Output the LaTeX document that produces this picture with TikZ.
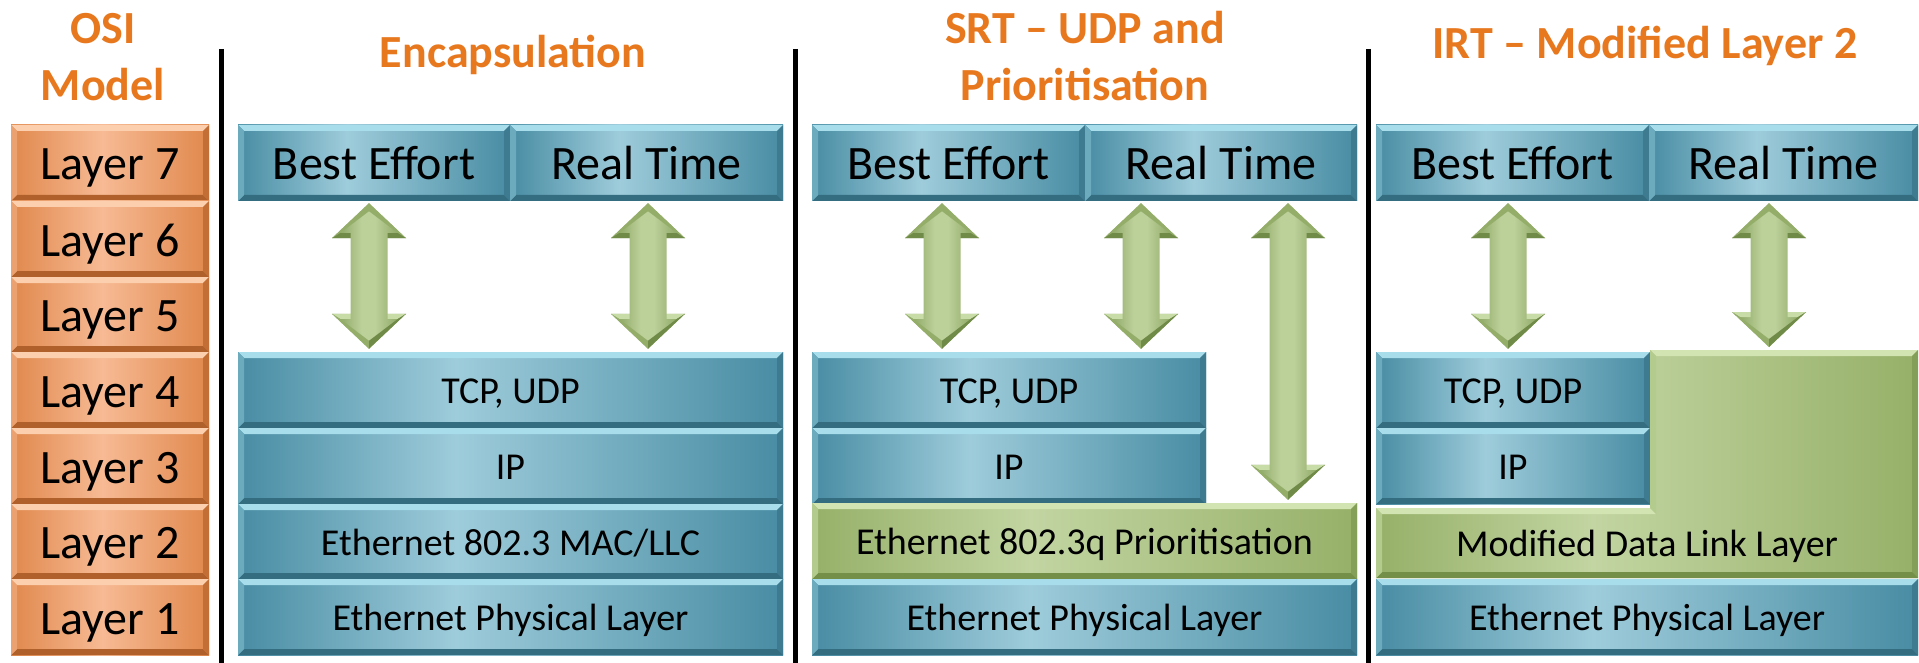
\documentclass[tikz,border=0pt]{standalone}
\usepackage{fontspec}
\setmainfont{Carlito}
\usetikzlibrary{calc}
\definecolor{tealD}{RGB}{72,140,163}
\definecolor{tealL}{RGB}{158,204,219}
\definecolor{tealT}{RGB}{168,222,236}
\definecolor{tealB}{RGB}{52,108,128}
\definecolor{tealLf}{RGB}{108,170,190}
\definecolor{tealR}{RGB}{62,122,144}
\definecolor{orD}{RGB}{224,136,76}
\definecolor{orL}{RGB}{247,186,148}
\definecolor{orT}{RGB}{252,208,174}
\definecolor{orB}{RGB}{176,96,42}
\definecolor{orLf}{RGB}{236,162,112}
\definecolor{orR}{RGB}{194,110,52}
\definecolor{grD}{RGB}{150,176,104}
\definecolor{grL}{RGB}{194,213,162}
\definecolor{grT}{RGB}{210,228,178}
\definecolor{grB}{RGB}{116,144,72}
\definecolor{grLf}{RGB}{180,203,142}
\definecolor{grR}{RGB}{132,160,88}
\definecolor{arD}{RGB}{128,156,86}
\definecolor{arL}{RGB}{188,208,154}
\definecolor{arT}{RGB}{200,220,168}
\definecolor{arM}{RGB}{148,174,106}
\definecolor{arB}{RGB}{112,138,72}
\definecolor{ttl}{RGB}{232,120,30}
\pgfdeclarehorizontalshading{tealsh}{100bp}{color(0bp)=(tealD); color(25bp)=(tealD); color(45bp)=(tealL); color(75bp)=(tealD); color(100bp)=(tealD)}
\pgfdeclarehorizontalshading{orsh}{100bp}{color(0bp)=(orD); color(25bp)=(orD); color(48bp)=(orL); color(75bp)=(orD); color(100bp)=(orD)}
\pgfdeclarehorizontalshading{grsh}{100bp}{color(0bp)=(grD); color(25bp)=(grD); color(45bp)=(grL); color(75bp)=(grD); color(100bp)=(grD)}
\pgfdeclarehorizontalshading{arrsh}{100bp}{color(0bp)=(arD); color(25bp)=(arD); color(45bp)=(arL); color(54bp)=(arL); color(75bp)=(arD); color(100bp)=(arD)}
\tikzset{
  bevel/.style n args={4}{path picture={
    \fill[#1] (path picture bounding box.north west) -- (path picture bounding box.north east)
      -- ([shift={(-6pt,-6pt)}]path picture bounding box.north east) -- ([shift={(6pt,-6pt)}]path picture bounding box.north west) -- cycle;
    \fill[#2] (path picture bounding box.south west) -- (path picture bounding box.south east)
      -- ([shift={(-6pt,6pt)}]path picture bounding box.south east) -- ([shift={(6pt,6pt)}]path picture bounding box.south west) -- cycle;
    \fill[#3] (path picture bounding box.north west) -- ([shift={(6pt,-6pt)}]path picture bounding box.north west)
      -- ([shift={(6pt,6pt)}]path picture bounding box.south west) -- (path picture bounding box.south west) -- cycle;
    \fill[#4] (path picture bounding box.north east) -- ([shift={(-6pt,-6pt)}]path picture bounding box.north east)
      -- ([shift={(-6pt,6pt)}]path picture bounding box.south east) -- (path picture bounding box.south east) -- cycle;
  }},
  box/.style={rectangle, inner sep=0pt, text=black},
  bigtxt/.style={font=\fontsize{48}{54}\selectfont, text height=34pt, text depth=0pt},
  smalltxt/.style={font=\fontsize{38}{44}\selectfont, text height=27pt, text depth=0pt},
  tealbox/.style={box, shade, shading=tealsh, bevel={tealT}{tealB}{tealLf}{tealR}},
  orbox/.style={box, shade, shading=orsh, bevel={orT}{orB}{orLf}{orR}},
  grbox/.style={box, shade, shading=grsh, bevel={grT}{grB}{grLf}{grR}},
  ttlstyle/.style={font=\fontsize{46}{52}\selectfont\bfseries, text=ttl, inner sep=0pt, anchor=base},
  arrowsh/.style={shade, shading=arrsh},
  divider/.style={line width=5pt, black}
}
\newcommand\lbox[7]{%
  \node[#1, minimum width={(#5-#3)*1pt}, minimum height={(#6-#4)*1pt}] (#2) at ({(#3+#5)/2},{(#4+#6)/2}) {#7};}
\newcommand\dblarrow[2]{%
  \path[arrowsh] let \p1=(#1), \p2=(#2) in
    (\x1,\y1-2pt) -- (\x1+37pt,\y1-37pt) -- (\x1+18.5pt,\y1-37pt) -- (\x1+18.5pt,\y2+38pt)
    -- (\x1+37pt,\y2+38pt) -- (\x1,\y2+3pt) -- (\x1-37pt,\y2+38pt) -- (\x1-18.5pt,\y2+38pt)
    -- (\x1-18.5pt,\y1-37pt) -- (\x1-37pt,\y1-37pt) -- cycle;
  \path let \p1=(#1), \p2=(#2) in
    [fill=arT] (\x1,\y1-2pt) -- (\x1-37pt,\y1-37pt) -- (\x1-29pt,\y1-32pt) -- (\x1,\y1-10pt) -- cycle
    [fill=arM] (\x1,\y1-2pt) -- (\x1+37pt,\y1-37pt) -- (\x1+29pt,\y1-32pt) -- (\x1,\y1-10pt) -- cycle;
  \path let \p1=(#1), \p2=(#2) in
    [fill=arB] (\x1-37pt,\y1-37pt) -- (\x1-18.5pt,\y1-37pt) -- (\x1-18.5pt,\y1-32pt) -- (\x1-29pt,\y1-32pt) -- cycle
    (\x1+37pt,\y1-37pt) -- (\x1+18.5pt,\y1-37pt) -- (\x1+18.5pt,\y1-32pt) -- (\x1+29pt,\y1-32pt) -- cycle;
  \path let \p1=(#1), \p2=(#2) in
    [fill=arT] (\x1-37pt,\y2+38pt) -- (\x1-18.5pt,\y2+38pt) -- (\x1-18.5pt,\y2+33pt) -- (\x1-29pt,\y2+33pt) -- cycle
    (\x1+37pt,\y2+38pt) -- (\x1+18.5pt,\y2+38pt) -- (\x1+18.5pt,\y2+33pt) -- (\x1+29pt,\y2+33pt) -- cycle;
  \path let \p1=(#1), \p2=(#2) in
    [fill=arM] (\x1,\y2+3pt) -- (\x1-37pt,\y2+38pt) -- (\x1-29pt,\y2+33pt) -- (\x1,\y2+11pt) -- cycle;
  \path let \p1=(#1), \p2=(#2) in
    [fill=arB] (\x1,\y2+3pt) -- (\x1+37pt,\y2+38pt) -- (\x1+29pt,\y2+33pt) -- (\x1,\y2+11pt) -- cycle;}
\begin{document}
\begin{tikzpicture}[x=1pt,y=-1pt]
\useasboundingbox[fill=white] (0,0) rectangle (1919,663);
% titles
\node[ttlstyle] (tosi) at (103,44) {OSI};
\node[ttlstyle] (tmodel) at (103,101) {Model};
\node[ttlstyle] (tenc) at (513,68) {Encapsulation};
\node[ttlstyle] (tsrt) at (1085,44) {SRT \textendash{} UDP and};
\node[ttlstyle] (tprio) at (1085,101) {Prioritisation};
\node[ttlstyle] (tirt) at (1645,59) {IRT \textendash{} Modified Layer 2};
% dividers
\coordinate (d1t) at (221.5,49); \coordinate (d1b) at (221.5,663);
\coordinate (d2t) at (795,49); \coordinate (d2b) at (795,663);
\coordinate (d3t) at (1368,49); \coordinate (d3b) at (1368,663);
\draw[divider] (d1t) -- (d1b);
\draw[divider] (d2t) -- (d2b);
\draw[divider] (d3t) -- (d3b);
% OSI column
\lbox{orbox,bigtxt}{L7}{11}{125}{209}{201}{Layer 7}
\lbox{orbox,bigtxt}{L6}{11}{201}{209}{277}{Layer 6}
\lbox{orbox,bigtxt}{L5}{11}{277}{209}{352}{Layer 5}
\lbox{orbox,bigtxt}{L4}{11}{352}{209}{428}{Layer 4}
\lbox{orbox,bigtxt}{L3}{11}{428}{209}{504}{Layer 3}
\lbox{orbox,bigtxt}{L2}{11}{504}{209}{579}{Layer 2}
\lbox{orbox,bigtxt}{L1}{11}{579}{209}{655}{Layer 1}
% Encapsulation column
\lbox{tealbox,bigtxt}{e7a}{238}{125}{510}{201}{Best Effort}
\lbox{tealbox,bigtxt}{e7b}{510}{125}{783}{201}{Real Time}
\lbox{tealbox,smalltxt}{e4}{238}{352}{783}{428}{TCP, UDP}
\lbox{tealbox,smalltxt}{e3}{238}{428}{783}{504}{IP}
\lbox{tealbox,smalltxt}{e2}{238}{504}{783}{579}{Ethernet 802.3 MAC/LLC}
\lbox{tealbox,smalltxt}{e1}{238}{579}{783}{655}{Ethernet Physical Layer}
% SRT column
\lbox{tealbox,bigtxt}{s7a}{812}{125}{1085}{201}{Best Effort}
\lbox{tealbox,bigtxt}{s7b}{1085}{125}{1357}{201}{Real Time}
\lbox{tealbox,smalltxt}{s4}{812}{352}{1206}{428}{TCP, UDP}
\lbox{tealbox,smalltxt}{s3}{812}{428}{1206}{504}{IP}
\lbox{grbox,smalltxt}{s2}{812}{503}{1357}{579}{Ethernet 802.3q Prioritisation}
\lbox{tealbox,smalltxt}{s1}{812}{579}{1357}{655}{Ethernet Physical Layer}
% IRT column
\lbox{tealbox,bigtxt}{i7a}{1376}{125}{1649}{201}{Best Effort}
\lbox{tealbox,bigtxt}{i7b}{1649}{125}{1918}{201}{Real Time}
\lbox{tealbox,smalltxt}{i4}{1376}{352}{1650}{428}{TCP, UDP}
\lbox{tealbox,smalltxt}{i3}{1376}{428}{1650}{504}{IP}
\lbox{tealbox,smalltxt}{i1}{1376}{579}{1918}{655}{Ethernet Physical Layer}
% modified data link layer (L shape)
\shade[shading=grsh] (1650,350) -- (1918,350) -- (1918,578) -- (1376,578) -- (1376,508) -- (1650,508) -- cycle;
\fill[grT] (1650,350) -- (1918,350) -- (1912,356) -- (1656,356) -- cycle;
\fill[grR] (1918,350) -- (1918,578) -- (1912,572) -- (1912,356) -- cycle;
\fill[grB] (1376,578) -- (1918,578) -- (1912,572) -- (1382,572) -- cycle;
\fill[grLf] (1376,508) -- (1376,578) -- (1382,572) -- (1382,514) -- cycle;
\fill[grT] (1376,508) -- (1650,508) -- (1656,514) -- (1382,514) -- cycle;
\fill[grLf] (1650,350) -- (1656,356) -- (1656,514) -- (1650,508) -- cycle;
\node[box,smalltxt] (i2) at (1647,543) {Modified Data Link Layer};
\coordinate (mdl) at (1784,350);
% arrows
\coordinate (a1) at (369,0);
\coordinate (a2) at (648,0);
\coordinate (a3) at (942,0);
\coordinate (a4) at (1141,0);
\coordinate (a5) at (1288,0);
\coordinate (a6) at (1508,0);
\coordinate (a7) at (1769,0);
\dblarrow{e7a.south -| a1}{e4.north -| a1}
\dblarrow{e7b.south -| a2}{e4.north -| a2}
\dblarrow{s7a.south -| a3}{s4.north -| a3}
\dblarrow{s7b.south -| a4}{s4.north -| a4}
\dblarrow{s7b.south -| a5}{s2.north -| a5}
\dblarrow{i7a.south -| a6}{i4.north -| a6}
\dblarrow{i7b.south -| a7}{mdl -| a7}
\end{tikzpicture}
\end{document}
